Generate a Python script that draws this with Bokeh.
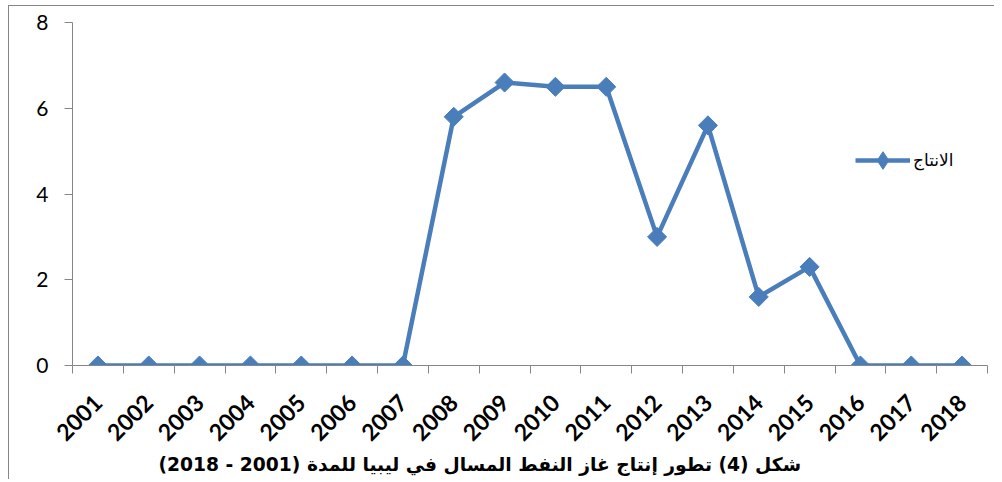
import math
from bokeh.plotting import figure
from bokeh.models import Range1d, FixedTicker, Title, Legend, LegendItem
from bokeh.embed import file_html
from bokeh.resources import INLINE

years = ["2001", "2002", "2003", "2004", "2005", "2006", "2007", "2008", "2009",
         "2010", "2011", "2012", "2013", "2014", "2015", "2016", "2017", "2018"]
production = [0, 0, 0, 0, 0, 0, 0, 5.8, 6.6, 6.5, 6.5, 3.0, 5.6, 1.6, 2.3, 0, 0, 0]
y_ticks = [0, 2, 4, 6, 8]
series_name = "الانتاج"
title_text = "شكل (4) تطور إنتاج غاز النفط المسال في ليبيا للمدة (2001 - 2018)"

BLUE = "#4A7EBB"
GREY = "#868686"

xs = [i + 0.5 for i in range(len(years))]

p = figure(width=986, height=474, output_backend="svg", toolbar_location=None,
           x_range=Range1d(0, len(years)), y_range=Range1d(y_ticks[0], y_ticks[-1]),
           min_border_left=63, min_border_right=8, min_border_top=16,
           min_border_bottom=115)
p.styles = {"margin-left": "8px", "margin-top": "5px",
            "border-left": "1px solid #868686", "border-top": "1px solid #868686"}

p.xgrid.visible = False
p.ygrid.visible = False
p.outline_line_color = None

# x axis
p.xaxis.ticker = FixedTicker(ticks=xs, minor_ticks=list(range(len(years) + 1)))
p.xaxis.major_label_overrides = {x: y for x, y in zip(xs, years)}
p.xaxis.major_tick_line_color = None
p.xaxis.major_tick_out = 8
p.xaxis.major_tick_in = 0
p.xaxis.minor_tick_out = 8
p.xaxis.minor_tick_in = 0
p.xaxis.minor_tick_line_color = GREY
p.xaxis.axis_line_color = GREY
p.xaxis.major_label_orientation = math.pi / 4
p.xaxis.major_label_text_font = "Lato"
p.xaxis.major_label_text_font_style = "bold"
p.xaxis.major_label_text_font_size = "23px"
p.xaxis.major_label_text_color = "black"
p.xaxis.major_label_standoff = 25

# y axis
p.yaxis.ticker = FixedTicker(ticks=y_ticks)
p.yaxis.major_tick_out = 8
p.yaxis.major_tick_in = 0
p.yaxis.minor_tick_line_color = None
p.yaxis.major_tick_line_color = GREY
p.yaxis.axis_line_color = GREY
p.yaxis.major_label_text_font = "Lato"
p.yaxis.major_label_text_font_size = "21px"
p.yaxis.major_label_text_color = "black"
p.yaxis.major_label_standoff = 16

line_r = p.line(xs, production, line_width=4.5, color=BLUE)
p.scatter(xs, production, marker="square", angle=math.pi / 4, size=13.5, color=BLUE)
# proxy marker used only for the legend sample (legend markers are not rotated)
proxy = p.scatter(xs, production, marker="diamond", color=BLUE, visible=False)

lg = Legend(items=[LegendItem(label=series_name, renderers=[line_r, proxy])])
lg.location = (783, 183)
lg.glyph_width = 55
lg.glyph_height = 44
lg.padding = 0
lg.margin = 0
lg.spacing = 0
lg.label_standoff = 3
lg.border_line_color = None
lg.background_fill_alpha = 0
lg.label_text_font = "DejaVu Sans"
lg.label_text_font_size = "17px"
lg.label_text_color = "black"
p.add_layout(lg, "center")

t = Title(text=title_text + "\u200f", align="left", text_font="DejaVu Sans",
          text_font_size="18.7px", text_font_style="bold", text_color="black",
          offset=86, standoff=0)
p.add_layout(t, "below")

open("out.html", "w").write(file_html(p, INLINE))
